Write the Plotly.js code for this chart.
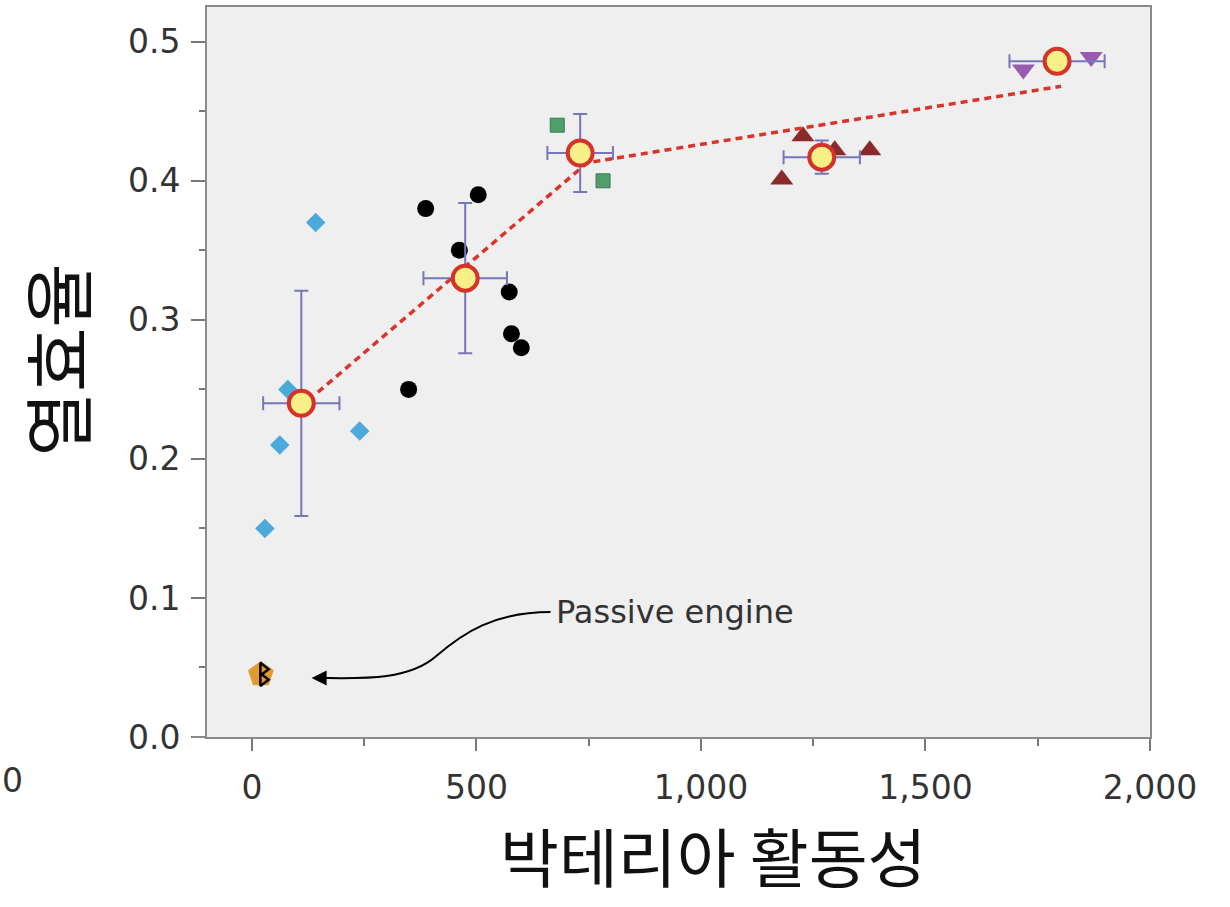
<!DOCTYPE html>
<html>
<head>
<meta charset="utf-8">
<script src="https://cdn.plot.ly/plotly-3.0.1.min.js"></script>
<style>html,body{margin:0;padding:0;background:#fff;}#chart{width:1230px;height:907px;}</style>
</head>
<body>
<div id="chart"></div>
<script>
// Group means with error bars
const meanX = [110, 475, 731, 1269, 1793];
const meanY = [0.240, 0.330, 0.420, 0.417, 0.486];
const meanXErr = [85, 93, 73, 85, 106];
const meanYErr = [0.081, 0.054, 0.028, 0.012, 0.0];

// Piecewise fit line
const fitX = [147, 747, 1802];
const fitY = [0.248, 0.413, 0.468];

// Individual measurements
const blueX = [142, 80, 62, 240, 29];
const blueY = [0.37, 0.25, 0.21, 0.22, 0.15];
const blackX = [387, 504, 462, 573, 578, 600, 349];
const blackY = [0.38, 0.39, 0.35, 0.32, 0.29, 0.28, 0.25];
const greenX = [680, 782];
const greenY = [0.44, 0.40];
const redX = [1180, 1227, 1298, 1376];
const redY = [0.401, 0.432, 0.422, 0.422];
const purpleX = [1718, 1869];
const purpleY = [0.480, 0.489];
const passiveX = [20];
const passiveY = [0.045];

// Text
const xTitle = '박테리아 활동성';
const yTitle = '열효율';
const passiveLabel = 'Passive engine';
const xTickVals = [0, 500, 1000, 1500, 2000];
const xTickText = ['0', '500', '1,000', '1,500', '2,000'];
const yTickVals = [0, 0.1, 0.2, 0.3, 0.4, 0.5];
const yTickText = ['0.0', '0.1', '0.2', '0.3', '0.4', '0.5'];

const tickFont = 'DejaVu Sans, sans-serif';
const cjkFont = 'Noto Sans CJK KR, sans-serif';

const traces = [
  {x: blueX, y: blueY, mode: 'markers', type: 'scatter',
   marker: {symbol: 'diamond', size: 15, color: '#4ba9dc'}},
  {x: blackX, y: blackY, mode: 'markers', type: 'scatter',
   marker: {symbol: 'circle', size: 17, color: '#000000'}},
  {x: greenX, y: greenY, mode: 'markers', type: 'scatter',
   marker: {symbol: 'square', size: 14, color: '#4f9e6c', line: {color: '#3a7a52', width: 1}}},
  {x: redX, y: redY, mode: 'markers', type: 'scatter',
   marker: {symbol: 'triangle-up', size: 20, color: '#8a2a2a'}},
  {x: purpleX, y: purpleY, mode: 'markers', type: 'scatter',
   marker: {symbol: 'triangle-down', size: 20, color: '#9a5aae'}},
  {x: passiveX, y: passiveY, mode: 'markers', type: 'scatter',
   marker: {symbol: 'pentagon', size: 27, color: '#e19a32'}},
  {x: [passiveX[0] + 5, passiveX[0] + 5], y: [passiveY[0] + 0.0038, passiveY[0] - 0.0038], mode: 'markers', type: 'scatter',
   marker: {symbol: 'triangle-right-open', size: 11, color: '#000', line: {color: '#000', width: 2.5}}},
  {x: fitX, y: fitY, mode: 'lines', type: 'scatter',
   line: {color: '#d8342a', width: 3.5, dash: '7px,5px'}},
  {x: meanX, y: meanY, mode: 'markers', type: 'scatter',
   error_x: {type: 'data', array: meanXErr, color: '#7776b8', thickness: 2, width: 7},
   error_y: {type: 'data', array: meanYErr, color: '#7776b8', thickness: 2, width: 7},
   marker: {symbol: 'circle', size: 25, color: '#f8ef86', line: {color: '#d5332a', width: 4}}}
];

const layout = {
  width: 1230, height: 907,
  margin: {l: 207, r: 80, t: 7, b: 170},
  paper_bgcolor: '#ffffff',
  plot_bgcolor: '#efefef',
  showlegend: false,
  font: {family: tickFont, color: '#333'},
  xaxis: {
    range: [-100, 2000], showgrid: false, zeroline: false,
    showline: true, linecolor: '#8a8a8a', linewidth: 2, mirror: true,
    ticks: 'outside', ticklen: 12, tickwidth: 2, tickcolor: '#777',
    ticklabelstandoff: 8,
    tickvals: xTickVals, ticktext: xTickText,
    tickfont: {size: 33, color: '#333', family: tickFont},
    minor: {tickvals: [250, 750, 1250, 1750], ticklen: 7, tickwidth: 2, tickcolor: '#777', ticks: 'outside'}
  },
  yaxis: {
    range: [0, 0.525], showgrid: false, zeroline: false,
    showline: true, linecolor: '#8a8a8a', linewidth: 2, mirror: true,
    ticks: 'outside', ticklen: 14, tickwidth: 2, tickcolor: '#777',
    ticklabelstandoff: 4,
    tickvals: yTickVals, ticktext: yTickText,
    tickfont: {size: 33, color: '#333', family: tickFont},
    minor: {tickvals: [0.05, 0.15, 0.25, 0.35, 0.45], ticklen: 6, tickwidth: 2, tickcolor: '#777', ticks: 'outside'}
  },
  shapes: [
    {type: 'line', xref: 'paper', yref: 'paper', x0: -0.016, x1: 0, y0: 0, y1: 0,
     line: {color: '#8a8a8a', width: 2}},
    {type: 'path', xref: 'x', yref: 'y',
     path: 'M 665 0.0899 C 540 0.0899, 470 0.075, 410 0.058 S 250 0.042, 160 0.0424',
     line: {color: '#000', width: 2}}
  ],
  annotations: [
    {x: 0.537, y: -0.160, xref: 'paper', yref: 'paper', xanchor: 'center', yanchor: 'middle',
     text: xTitle, showarrow: false, font: {size: 64, color: '#111', family: cjkFont}},
    {x: -0.161, y: 0.516, xref: 'paper', yref: 'paper', xanchor: 'center', yanchor: 'middle',
     text: yTitle, textangle: -90, showarrow: false, font: {size: 70, color: '#111', family: cjkFont}},
    {x: 672, y: 0.0899, xref: 'x', yref: 'y', text: passiveLabel, showarrow: false,
     xanchor: 'left', yanchor: 'middle', font: {size: 32, color: '#333', family: tickFont}},
    {x: 133, y: 0.0424, xref: 'x', yref: 'y', ax: 24, ay: 0, text: '', showarrow: true,
     arrowhead: 2, arrowsize: 1.5, arrowwidth: 2, arrowcolor: '#000'},
    {x: 0, y: -0.059, xref: 'paper', yref: 'paper', xanchor: 'left', yanchor: 'middle', text: '0',
     showarrow: false, xshift: -207, font: {size: 33, color: '#333', family: tickFont}}
  ]
};

Plotly.newPlot('chart', traces, layout, {displayModeBar: false, staticPlot: true});
</script>
</body>
</html>
